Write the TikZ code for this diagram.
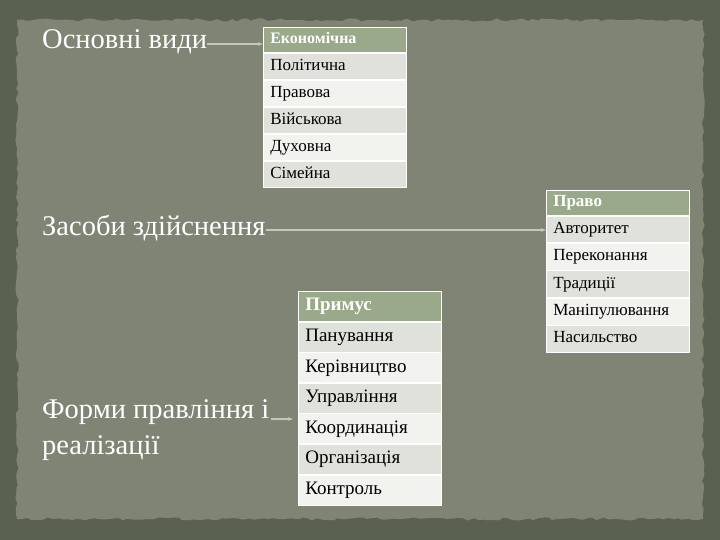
\documentclass[tikz,border=0pt]{standalone}
\usepackage{fontspec}
\setmainfont{Liberation Serif}
\usetikzlibrary{positioning, arrows.meta, decorations.pathmorphing}
\definecolor{framecol}{HTML}{5B6150}
\definecolor{papercol}{HTML}{7F8475}
\definecolor{sage}{HTML}{9AA98A}
\definecolor{rowdark}{HTML}{E0E1DA}
\definecolor{rowlight}{HTML}{F2F2EE}
\definecolor{linkcol}{HTML}{C3C9B6}

\begin{document}
\begin{tikzpicture}
    [
        x=1pt, y=-1pt, node distance=0pt,
        cell/.style={rectangle, draw=white, line width=0.6pt, inner xsep=7pt, inner ysep=0pt, text width=129pt, align=left, text=black},
        small_cell/.style={cell, minimum height=26.4pt, text height=11.5pt, text depth=3.5pt, font=\fontsize{17}{17}\selectfont},
        mid_cell/.style={cell, minimum height=26.8pt, text height=11.5pt, text depth=3.5pt, font=\fontsize{17}{17}\selectfont},
        big_cell/.style={cell, minimum height=30pt, text height=13pt, text depth=4pt, font=\fontsize{19}{19}\selectfont},
        head/.style={fill=sage, text=white, minimum height=25pt},
        dark/.style={fill=rowdark},
        light/.style={fill=rowlight},
        title/.style={text=white, font=\fontsize{28.5}{28.5}\selectfont, inner sep=0pt, anchor=west},
        link/.style={-{Stealth[length=5pt, width=3.5pt]}, line width=1.2pt, color=linkcol},
    ]
        \useasboundingbox (0,0) rectangle (720,540) ;
        % backdrop
        \fill[framecol] (0,0) rectangle (720,540) ;
        \fill[papercol, decorate, decoration={random steps, segment length=5pt, amplitude=1.6pt}]
            (17,20) -- (703,20) -- (703,519) -- (17,519) -- cycle ;

        % types
        \node[title] (vydy) at (42,42) {Основні види} ;
        \node[small_cell, head, anchor=north west, font=\fontsize{16}{16}\selectfont\bfseries] (t1h) at (263,27) {Економічна} ;
        \node[small_cell, dark] (t1r1) [below = of t1h] {Політична} ;
        \node[small_cell, light] (t1r2) [below = of t1r1] {Правова} ;
        \node[small_cell, dark] (t1r3) [below = of t1r2] {Військова} ;
        \node[small_cell, light] (t1r4) [below = of t1r3] {Духовна} ;
        \node[small_cell, dark] (t1r5) [below = of t1r4] {Сімейна} ;

        % means
        \node[title] (zasoby) at (42,228) {Засоби здійснення} ;
        \node[mid_cell, head, anchor=north west, font=\fontsize{17}{17}\selectfont\bfseries] (t2h) at (546,190) {Право} ;
        \node[mid_cell, dark] (t2r1) [below = of t2h] {Авторитет} ;
        \node[mid_cell, light] (t2r2) [below = of t2r1] {Переконання} ;
        \node[mid_cell, dark] (t2r3) [below = of t2r2] {Традиції} ;
        \node[mid_cell, light] (t2r4) [below = of t2r3] {Маніпулювання} ;
        \node[mid_cell, dark] (t2r5) [below = of t2r4] {Насильство} ;

        % forms
        \node[title] (forma1) at (42,412) {Форми правління і} ;
        \node[title] (forma2) at (42,448) {реалізації} ;
        \node[big_cell, head, minimum height=30pt, anchor=north west, font=\fontsize{19}{19}\selectfont\bfseries] (t3h) at (298,291) {Примус} ;
        \node[big_cell, dark] (t3r1) [below = of t3h] {Панування} ;
        \node[big_cell, light] (t3r2) [below = of t3r1] {Керівництво} ;
        \node[big_cell, dark] (t3r3) [below = of t3r2] {Управління} ;
        \node[big_cell, light] (t3r4) [below = of t3r3] {Координація} ;
        \node[big_cell, dark] (t3r5) [below = of t3r4] {Організація} ;
        \node[big_cell, light] (t3r6) [below = of t3r5] {Контроль} ;

        \draw[link] ([yshift=-2pt]vydy.east) -- ([yshift=-2pt]vydy.east -| t1h.west) ;
        \draw[link] ([yshift=-2pt]zasoby.east) -- ([yshift=-2pt]zasoby.east -| t2r1.west) ;
        \draw[link, shorten >=5pt] ([xshift=2pt, yshift=-7pt]forma1.east) -- ([yshift=-7pt]forma1.east -| t3h.west) ;
    \end{tikzpicture}
\end{document}
